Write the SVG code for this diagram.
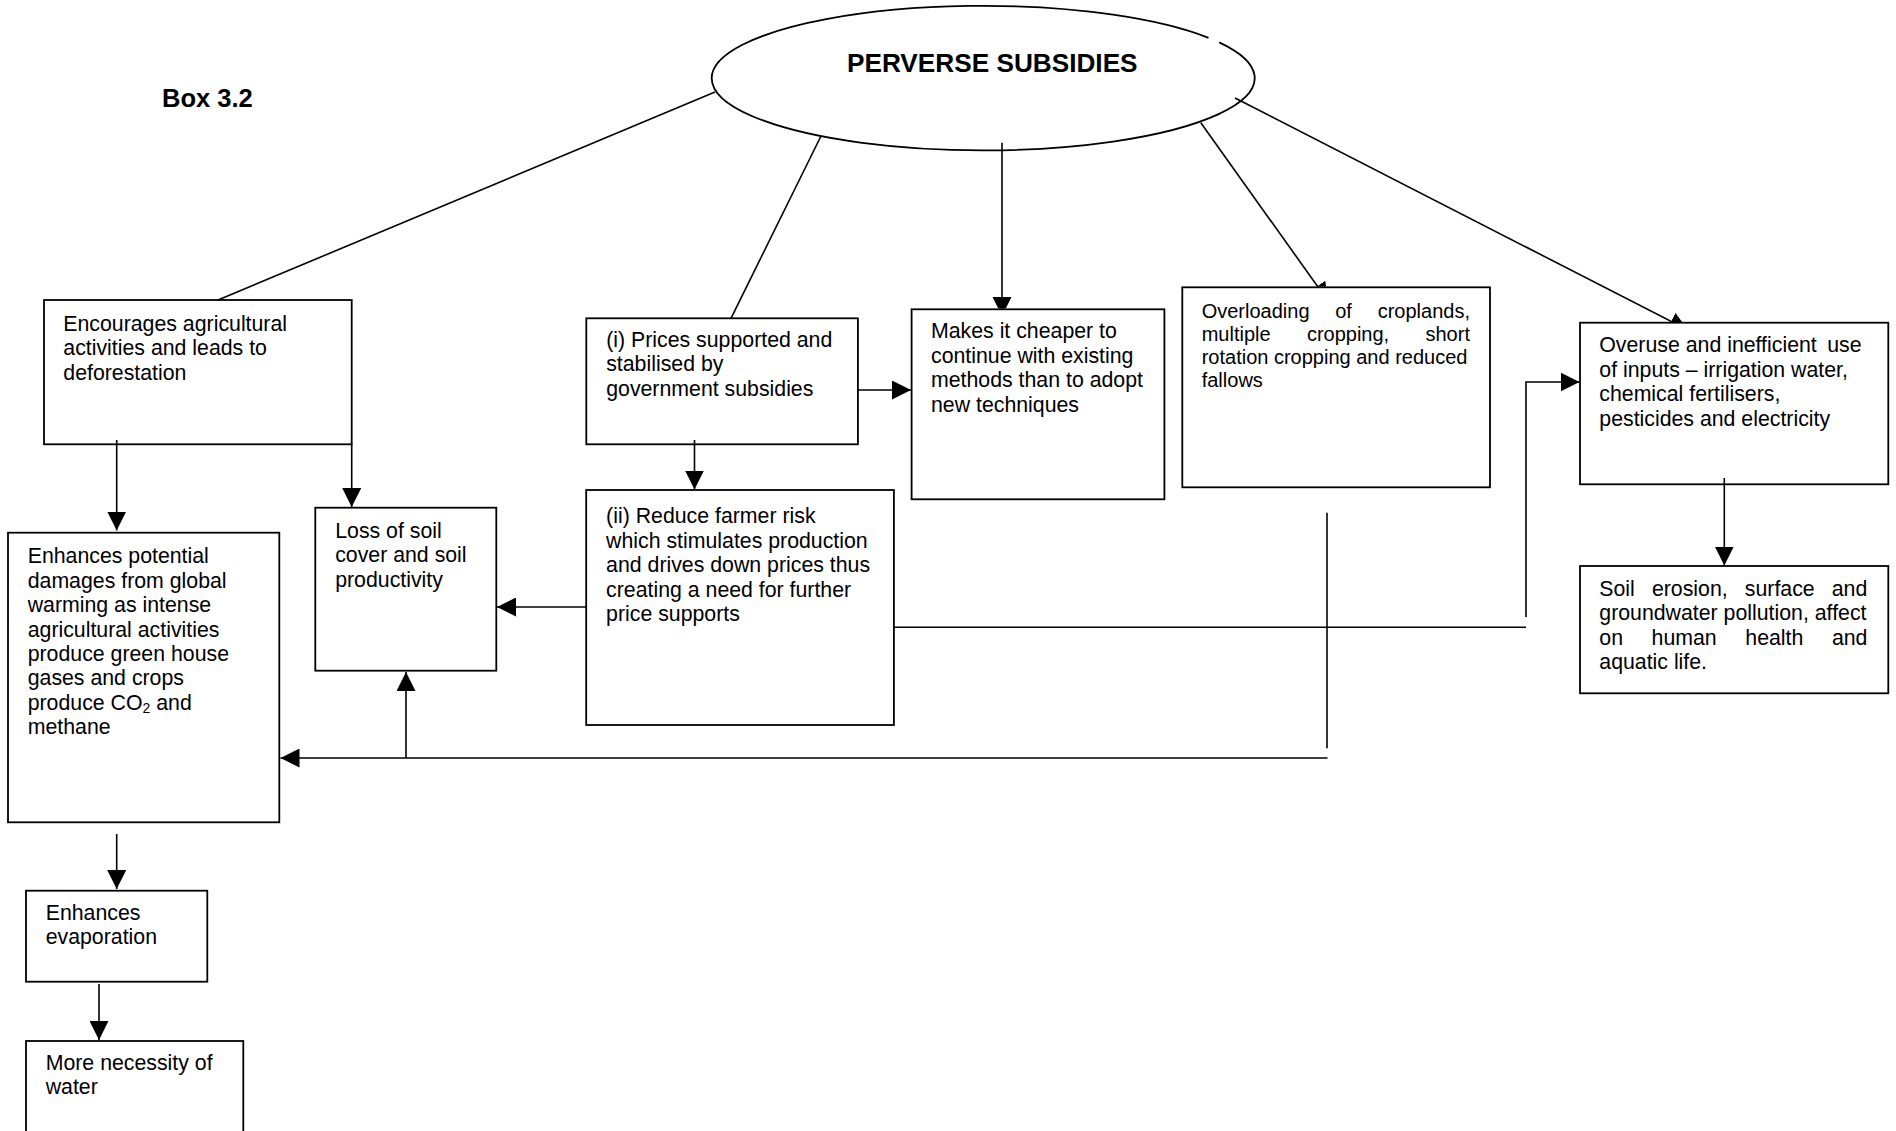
<svg xmlns="http://www.w3.org/2000/svg" width="1896" height="1131" viewBox="0 0 1896 1131">
<defs>
<marker id="ah" markerUnits="userSpaceOnUse" markerWidth="19" markerHeight="19" viewBox="0 0 19 19" refX="19" refY="9.5" orient="auto"><path d="M0,0 L19,9.5 L0,19 z" fill="#000"/></marker>
<clipPath id="clipMakes"><rect x="960" y="0" width="90" height="308.5"/></clipPath>
<clipPath id="clipOverload"><rect x="1180" y="0" width="200" height="286.5"/></clipPath>
<clipPath id="clipOveruse"><rect x="1220" y="0" width="500" height="321.9"/></clipPath>
</defs>
<style>
.box{fill:#fff;stroke:#000;stroke-width:1.8}
.t{font-family:"Liberation Sans",Arial,sans-serif;font-size:21.3px;fill:#000}
.s{font-size:20px}
.b{font-weight:bold}
.c{fill:none;stroke:#000;stroke-width:1.6}
.a{marker-end:url(#ah)}
</style>
<rect width="1896" height="1131" fill="#fff"/>

<text class="t b" x="162" y="107.3" style="font-size:25.5px">Box 3.2</text>

<g id="n-perverse">
<path class="box" d="M1219.2,42.4 A271.5,72.3 0 1 1 1208.5,37.8"/>
<text class="t b" x="847" y="71.5" style="font-size:26.2px">PERVERSE SUBSIDIES</text>
</g>

<g id="n-encourages">
<rect class="box" x="44" y="300" width="307.7" height="144.3"/>
<text class="t" x="63.3"><tspan x="63.3" y="330.5">Encourages agricultural</tspan><tspan x="63.3" y="355">activities and leads to</tspan><tspan x="63.3" y="379.5">deforestation</tspan></text>
</g>

<g id="n-enhances">
<rect class="box" x="8" y="532.7" width="271.3" height="289.6"/>
<text class="t"><tspan x="27.7" y="563.3">Enhances potential</tspan><tspan x="27.7" y="587.7">damages from global</tspan><tspan x="27.7" y="612.1">warming as intense</tspan><tspan x="27.7" y="636.5">agricultural activities</tspan><tspan x="27.7" y="660.9">produce green house</tspan><tspan x="27.7" y="685.3">gases and crops</tspan><tspan x="27.7" y="709.7">produce CO</tspan><tspan dy="3" style="font-size:14px">2</tspan><tspan dy="-3"> and</tspan><tspan x="27.7" y="734.1">methane</tspan></text>
</g>

<g id="n-evaporation">
<rect class="box" x="26" y="890.7" width="181.3" height="91"/>
<text class="t"><tspan x="45.7" y="920">Enhances</tspan><tspan x="45.7" y="944.4">evaporation</tspan></text>
</g>

<g id="n-water">
<rect class="box" x="26" y="1041" width="217.3" height="120"/>
<text class="t"><tspan x="45.7" y="1070">More necessity of</tspan><tspan x="45.7" y="1094.4">water</tspan></text>
</g>

<g id="n-loss">
<rect class="box" x="315.3" y="507.7" width="181" height="163"/>
<text class="t"><tspan x="335.2" y="537.5">Loss of soil</tspan><tspan x="335.2" y="562">cover and soil</tspan><tspan x="335.2" y="586.5">productivity</tspan></text>
</g>

<g id="n-prices">
<rect class="box" x="586.3" y="318.3" width="271.6" height="126"/>
<text class="t"><tspan x="606.2" y="346.7">(i) Prices supported and</tspan><tspan x="606.2" y="371.1">stabilised by</tspan><tspan x="606.2" y="395.5">government subsidies</tspan></text>
</g>

<g id="n-reduce">
<rect class="box" x="586.2" y="490" width="307.7" height="235"/>
<text class="t"><tspan x="606.1" y="523.3">(ii) Reduce farmer risk</tspan><tspan x="606.1" y="547.7">which stimulates production</tspan><tspan x="606.1" y="572.1">and drives down prices thus</tspan><tspan x="606.1" y="596.5">creating a need for further</tspan><tspan x="606.1" y="620.9">price supports</tspan></text>
</g>

<g id="n-makes">
<rect class="box" x="911.6" y="309.3" width="252.8" height="190"/>
<text class="t"><tspan x="931" y="338.3">Makes it cheaper to</tspan><tspan x="931" y="362.7">continue with existing</tspan><tspan x="931" y="387.1">methods than to adopt</tspan><tspan x="931" y="411.5">new techniques</tspan></text>
</g>

<g id="n-overloading">
<rect class="box" x="1182.3" y="287.3" width="307.7" height="200"/>
<text class="t s"><tspan x="1201.7" y="317.7">Overloading</tspan><tspan x="1335.2" y="317.7">of</tspan><tspan x="1377.7" y="317.7">croplands,</tspan><tspan x="1201.7" y="340.7">multiple</tspan><tspan x="1306.9" y="340.7">cropping,</tspan><tspan x="1425.5" y="340.7">short</tspan><tspan x="1201.7" y="363.7">rotation cropping and reduced</tspan><tspan x="1201.7" y="386.7">fallows</tspan></text>
</g>

<g id="n-overuse">
<rect class="box" x="1580" y="322.7" width="308.3" height="161.6"/>
<text class="t"><tspan x="1599.3" y="352.3">Overuse and inefficient</tspan><tspan x="1827.2" y="352.3">use</tspan><tspan x="1599.3" y="376.7">of inputs – irrigation water,</tspan><tspan x="1599.3" y="401.1">chemical fertilisers,</tspan><tspan x="1599.3" y="425.5">pesticides and electricity</tspan></text>
</g>

<g id="n-soil">
<rect class="box" x="1580" y="566" width="308.3" height="127.3"/>
<text class="t"><tspan x="1599.3" y="596">Soil</tspan><tspan x="1651.9" y="596">erosion,</tspan><tspan x="1744.8" y="596">surface</tspan><tspan x="1831.7" y="596">and</tspan><tspan x="1599.3" y="620.4">groundwater pollution, affect</tspan><tspan x="1599.3" y="644.8">on</tspan><tspan x="1651.6" y="644.8">human</tspan><tspan x="1745.3" y="644.8">health</tspan><tspan x="1831.9" y="644.8">and</tspan><tspan x="1599.3" y="669.2">aquatic life.</tspan></text>
</g>

<g id="connectors">
<line class="c" x1="218" y1="300" x2="715" y2="92"/>
<line class="c" x1="821" y1="136" x2="731" y2="318.3"/>
<line class="c a" x1="1002" y1="142.7" x2="1002" y2="316" clip-path="url(#clipMakes)"/>
<line class="c a" x1="1200.8" y1="122.7" x2="1328.5" y2="301.7" clip-path="url(#clipOverload)"/>
<line class="c a" x1="1235" y1="98" x2="1688" y2="330" clip-path="url(#clipOveruse)"/>
<line class="c a" x1="116.7" y1="440" x2="116.7" y2="530.5"/>
<line class="c a" x1="351.7" y1="444" x2="351.7" y2="507"/>
<line class="c a" x1="116.7" y1="834" x2="116.7" y2="889"/>
<line class="c a" x1="99" y1="984" x2="99" y2="1040"/>
<line class="c a" x1="694.5" y1="440" x2="694.5" y2="489.5"/>
<line class="c a" x1="858" y1="390" x2="911" y2="390"/>
<line class="c a" x1="586.2" y1="607" x2="497" y2="607"/>
<line class="c a" x1="1327.5" y1="758" x2="280.5" y2="758"/>
<line class="c a" x1="406" y1="758" x2="406" y2="672"/>
<line class="c" x1="1327" y1="512.7" x2="1327" y2="748.3"/>
<line class="c" x1="894" y1="627.3" x2="1526" y2="627.3"/>
<polyline class="c a" points="1526,617 1526,382 1579.5,382"/>
<line class="c a" x1="1724.3" y1="478" x2="1724.3" y2="565.5"/>
</g>
</svg>
